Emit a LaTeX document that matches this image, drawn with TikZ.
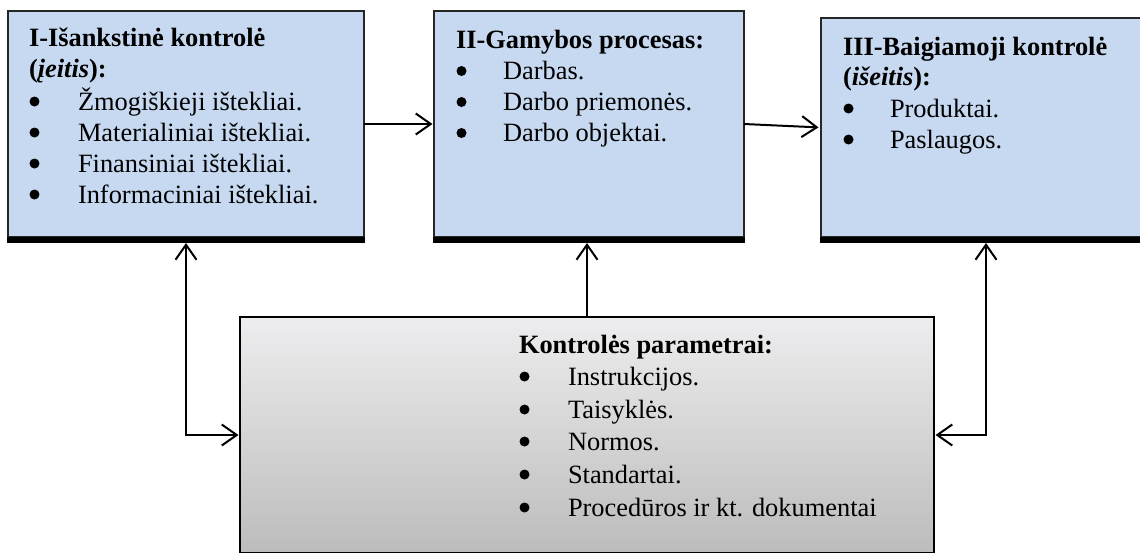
\documentclass[tikz,border=0pt]{standalone}
\usepackage{fontspec}
\setmainfont{Liberation Serif}
\usetikzlibrary{arrows.meta}
\definecolor{boxblue}{HTML}{C6D9F0}
\definecolor{gtop}{RGB}{237,237,239}
\definecolor{gbot}{RGB}{188,188,188}
\newcommand{\bul}[2][47pt]{\makebox[#1][l]{\hspace{0.5pt}\raisebox{3.5pt}{\tikz\fill[black] (0,0) circle[radius=5pt];}}#2}
\begin{document}
\begin{tikzpicture}[x=1pt,y=-1pt,
  bluebox/.style={draw=black!85, line width=1.1pt, fill=boxblue, rectangle, inner sep=0pt, outer sep=0pt, anchor=north west},
  graybox/.style={draw=black, line width=1.5pt, top color=gtop, bottom color=gbot, rectangle, inner sep=0pt, outer sep=0pt, anchor=north west},
  txt/.style={anchor=base west, inner sep=0pt, outer sep=0pt, font=\fontsize{26.4}{31}\selectfont},
  arr/.style={line width=2pt, -{Straight Barb[length=15pt,width=21pt,line width=2pt]}},
  arrb/.style={line width=2pt, {Straight Barb[length=15pt,width=21pt,line width=2pt]}-{Straight Barb[length=15pt,width=21pt,line width=2pt]}}
]
\clip (0,0) rectangle (1140,552);
\fill[white] (0,0) rectangle (1140,552);

% boxes
\node[bluebox, minimum width=356pt, minimum height=226pt] (pre) at (8,11) {};
\node[bluebox, minimum width=310pt, minimum height=226pt] (proc) at (434,11) {};
\node[bluebox, minimum width=330pt, minimum height=219pt] (post) at (821,18) {};
\node[graybox, minimum width=694pt, minimum height=236pt] (param) at (240,317) {};

% shadows
\fill[black] ([xshift=-0.6pt]pre.south west) rectangle ([xshift=1pt,yshift=-5.5pt]pre.south east);
\fill[black] ([xshift=-0.6pt]proc.south west) rectangle ([xshift=1pt,yshift=-5.5pt]proc.south east);
\fill[black] ([xshift=-0.6pt]post.south west) rectangle ([xshift=1pt,yshift=-5.5pt]post.south east);

% texts box 1
\node[txt] (a0) at (29,46.7) {\textbf{I-Išankstinė kontrolė}};
\node[txt] (a1) at (29,77) {\textbf{(\textit{įeitis}):}};
\node[txt] (a2) at (29,110) {\bul[49pt]{Žmogiškieji ištekliai.}};
\node[txt] (a3) at (29,141) {\bul[49pt]{Materialiniai ištekliai.}};
\node[txt] (a4) at (29,172) {\bul[49pt]{Finansiniai ištekliai.}};
\node[txt] (a5) at (29,203) {\bul[49pt]{Informaciniai ištekliai.}};

% texts box 2
\node[txt] (b0) at (456,48) {\textbf{II-Gamybos procesas:}};
\node[txt] (b1) at (456,79.5) {\bul{Darbas.}};
\node[txt] (b2) at (456,110.5) {\bul{Darbo priemonės.}};
\node[txt] (b3) at (456,141.5) {\bul{Darbo objektai.}};

% texts box 3
\node[txt] (c0) at (843,55) {\textbf{III-Baigiamoji kontrolė}};
\node[txt] (c1) at (843,85.5) {\textbf{(\textit{išeitis}):}};
\node[txt] (c2) at (843,117) {\bul{Produktai.}};
\node[txt] (c3) at (843,148) {\bul{Paslaugos.}};

% texts bottom box
\node[txt] (d0) at (519,353) {\textbf{Kontrolės parametrai:}};
\node[txt] (d1) at (519,385) {\bul[49pt]{Instrukcijos.}};
\node[txt] (d2) at (519,418) {\bul[49pt]{Taisyklės.}};
\node[txt] (d3) at (519,450) {\bul[49pt]{Normos.}};
\node[txt] (d4) at (519,483) {\bul[49pt]{Standartai.}};
\node[txt] (d5) at (519,516) {\bul[49pt]{Procedūros ir kt. dokumentai}};

% connectors
\draw[arr, shorten >=1.5pt] (pre.east) -- (proc.west);
\draw[arr, shorten >=2.5pt] (proc.east) -- (post.west);
\draw[arr, shorten >=6pt] (param.north) -- (param.north |- proc.south);
\draw[arrb, shorten <=6pt, shorten >=1.5pt] (pre.south) |- (param.west);
\draw[arrb, shorten <=6pt, shorten >=1.5pt] (post.south) |- (param.east);
\end{tikzpicture}
\end{document}
